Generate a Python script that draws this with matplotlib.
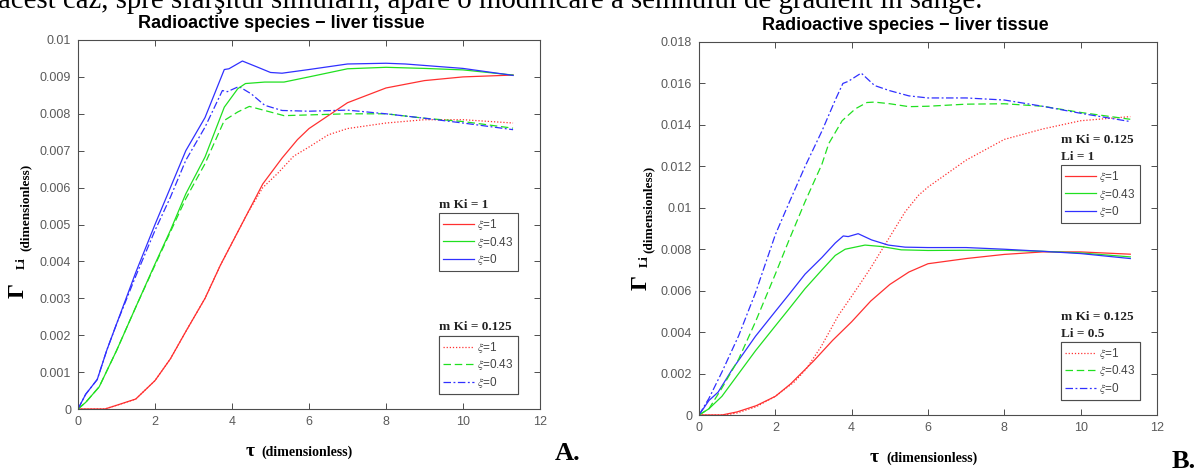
import matplotlib
matplotlib.use("Agg")
import matplotlib.pyplot as plt
from matplotlib.lines import Line2D

plt.rcParams["font.family"] = ["Liberation Sans", "DejaVu Sans"]
plt.rcParams["mathtext.fontset"] = "stix"

# ---- panel A : liver tissue, Li = 1 ----
A_tau_red = [0, 0.7, 1.0, 1.5, 2.0, 2.4, 2.8, 3.3, 3.7, 4.0, 4.4, 4.8, 5.3, 5.7, 6.0, 7.0, 8.0, 9.0, 10.0, 11.3]
A_red_mki1 = [0, 0, 0.0001, 0.00027, 0.00077, 0.00136, 0.0021, 0.0030, 0.0039, 0.0045, 0.0053,
              0.0061, 0.0068, 0.0073, 0.0076, 0.0083, 0.0087, 0.0089, 0.0090, 0.00905]
A_tau_red_dot = [0, 0.7, 1.0, 1.5, 2.0, 2.4, 2.8, 3.3, 3.7, 4.0, 4.4, 4.8, 5.2, 5.6, 6.0, 6.5, 7.0, 8.0, 9.0, 10.0, 11.3]
A_red_mki0125 = [0, 0, 0.0001, 0.00027, 0.00077, 0.00136, 0.0021, 0.0030, 0.0039, 0.0045, 0.0053,
                 0.0060, 0.0064, 0.00685, 0.0071, 0.00743, 0.0076, 0.00775, 0.00784, 0.00784, 0.00775]

A_tau_blue = [0, 0.2, 0.5, 0.75, 1.0, 1.5, 2.0, 2.4, 2.8, 3.3, 3.6, 3.8, 3.92, 4.27, 4.65, 5.0, 5.3,
              6.0, 7.0, 8.0, 8.5, 10.0, 11.3]
A_blue_mki1 = [0, 0.0004, 0.0008, 0.0016, 0.0023, 0.0037, 0.0050, 0.0060, 0.0070, 0.0079, 0.00868,
               0.0092, 0.00922, 0.00943, 0.00927, 0.00912, 0.0091, 0.0092, 0.00935, 0.00937, 0.00935,
               0.00923, 0.00904]
A_tau_blue_dd = [0, 0.2, 0.5, 0.75, 1.0, 1.5, 2.0, 2.4, 2.8, 3.3, 3.75, 3.88, 4.18, 4.5, 4.85, 5.3,
                 6.0, 7.0, 8.0, 9.0, 10.0, 11.3]
A_blue_mki0125 = [0, 0.0004, 0.0008, 0.0016, 0.0023, 0.0036, 0.00484, 0.00574, 0.00674, 0.00764,
                  0.00863, 0.0086, 0.00874, 0.00854, 0.00823, 0.00809, 0.00807, 0.0081, 0.008,
                  0.00788, 0.00775, 0.00757]

A_tau_green = [0, 0.2, 0.55, 1.0, 1.5, 2.0, 2.4, 2.8, 3.3, 3.8, 4.15, 4.35, 4.85, 5.35, 6.0, 7.0,
               8.0, 9.0, 10.0, 11.3]
A_green_mki1 = [0, 0.00018, 0.0006, 0.00158, 0.00276, 0.00393, 0.00484, 0.00583, 0.00683, 0.00818,
                0.00868, 0.00882, 0.00886, 0.00886, 0.009, 0.00922, 0.00926, 0.00923, 0.00919, 0.00905]
A_tau_green_ds = [0, 0.2, 0.55, 1.0, 1.5, 2.0, 2.4, 2.8, 3.3, 3.8, 4.15, 4.45, 4.85, 5.35, 6.0, 7.0,
                  8.0, 9.0, 10.0, 11.3]
A_green_mki0125 = [0, 0.00018, 0.0006, 0.00158, 0.00276, 0.0039, 0.0048, 0.0057, 0.00665, 0.00782,
                   0.00805, 0.0082, 0.00809, 0.00795, 0.00797, 0.008, 0.008, 0.00788, 0.00779, 0.00761]

# ---- panel B : mKi = 0.125, Li = 1 and Li = 0.5 ----
B_tau_blue_dd = [0, 0.26, 0.6, 1.04, 1.48, 2.0, 2.35, 2.78, 3.22, 3.57, 3.77, 3.91, 4.25, 4.6, 5.0,
                 5.5, 6.0, 7.0, 8.0, 9.0, 10.0, 11.3]
B_blue_li1 = [0, 0.0008, 0.00207, 0.00383, 0.0059, 0.0087, 0.0102, 0.012, 0.0137, 0.0152, 0.016,
              0.0161, 0.0165, 0.0159, 0.01565, 0.0154, 0.0153, 0.0153, 0.0152, 0.0149, 0.01456, 0.01416]
B_tau_green_ds = [0, 0.26, 0.6, 1.04, 1.48, 2.0, 2.35, 2.78, 3.22, 3.4, 3.75, 4.1, 4.4, 4.6, 5.0,
                  5.5, 6.0, 7.0, 8.0, 9.0, 10.0, 11.3]
B_green_li1 = [0, 0.0003, 0.0013, 0.0027, 0.0045, 0.0068, 0.0084, 0.0103, 0.0121, 0.0131, 0.0142,
               0.01478, 0.01508, 0.0151, 0.01502, 0.01488, 0.0149, 0.015, 0.01502, 0.0149, 0.0146, 0.01427]
B_tau_red_dot = [0, 0.7, 1.0, 1.5, 2.0, 2.5, 2.8, 3.2, 3.65, 4.1, 4.5, 5.0, 5.4, 5.75, 6.0, 7.0,
                 8.0, 9.0, 10.0, 11.3]
B_red_li1 = [0, 0, 0.0001, 0.0004, 0.0009, 0.0016, 0.0022, 0.0033, 0.0048, 0.006, 0.0071, 0.0086,
             0.0098, 0.0106, 0.0110, 0.0123, 0.0133, 0.0138, 0.0142, 0.0144]

B_tau_red = [0, 0.6, 1.0, 1.5, 2.0, 2.4, 3.0, 3.5, 4.0, 4.5, 5.0, 5.5, 6.0, 7.0, 8.0, 9.0, 10.0, 11.3]
B_red_li05 = [0, 0, 0.00015, 0.00045, 0.0009, 0.0015, 0.0026, 0.0036, 0.0045, 0.0055, 0.0063,
              0.0069, 0.0073, 0.00755, 0.00775, 0.00787, 0.00787, 0.00776]
B_tau_blue = [0, 0.26, 0.5, 0.87, 1.48, 2.0, 2.35, 2.78, 3.22, 3.57, 3.78, 3.91, 4.17, 4.52, 4.96,
              5.4, 6.0, 7.0, 8.0, 9.0, 10.0, 11.3]
B_blue_li05 = [0, 0.0007, 0.0011, 0.0022, 0.0038, 0.0050, 0.0058, 0.0068, 0.0076, 0.0083, 0.00864,
               0.00861, 0.00875, 0.00845, 0.0082, 0.0081, 0.00808, 0.00808, 0.008, 0.0079, 0.00779, 0.00755]
B_tau_green = [0, 0.26, 0.6, 1.04, 1.48, 2.0, 2.35, 2.78, 3.22, 3.57, 3.83, 4.35, 4.78, 5.3, 6.0,
               7.0, 8.0, 9.0, 10.0, 11.3]
B_green_li05 = [0, 0.0003, 0.0009, 0.002, 0.0031, 0.0043, 0.0051, 0.0061, 0.0070, 0.0077, 0.0080,
                0.0082, 0.00813, 0.00797, 0.00794, 0.00795, 0.00795, 0.0079, 0.00782, 0.00763]

xi_labels = [r"$\xi$=1", r"$\xi$=0.43", r"$\xi$=0"]
RED, GREEN, BLUE = "#ff3030", "#20e020", "#3030ff"
DOT, DASH, DASHDOT = (0, (1, 1.5)), (0, (6, 3)), (0, (6, 2, 1.5, 2))
W, H = 1199, 472


def px_axes(fig, left, top, right, bottom):
    return fig.add_axes([left / W, 1 - bottom / H, (right - left) / W, (bottom - top) / H])


def style_axes(ax, ymax, ystep):
    ax.set_xlim(0, 12)
    ax.set_ylim(0, ymax)
    ax.set_xticks(range(0, 13, 2))
    yt = [round(i * ystep, 4) for i in range(int(round(ymax / ystep)) + 1)]
    ax.set_yticks(yt)
    ax.set_yticklabels([f"{v:g}" for v in yt])
    ax.tick_params(direction="in", length=4, width=0.7, top=True, right=True,
                   labelsize=9, labelcolor="#5a5a5a", color="#4d4d4d", pad=5)
    for s in ax.spines.values():
        s.set_color("#4d4d4d")
        s.set_linewidth(0.8)


def add_legend(ax, styles, x, ytop):
    handles = [Line2D([], [], color=c, ls=ls, lw=0.9) for c, ls in styles]
    leg = ax.legend(handles, xi_labels, loc="upper left", bbox_to_anchor=(x, ytop),
                    borderaxespad=0, fontsize=8.5, handlelength=2.6, handletextpad=0.3,
                    labelspacing=0.2, borderpad=0.35, fancybox=False, framealpha=1,
                    edgecolor="#4d4d4d", labelcolor="#444444")
    leg.get_frame().set_linewidth(0.8)
    ax.add_artist(leg)
    return leg


def serif_text(fig, x, y, s, size, **kw):
    fig.text(x / W, 1 - y / H, s, fontsize=size, family="Liberation Serif",
             fontweight="bold", ha="center", va="center", **kw)


def legend_title(ax, x, y, s):
    ax.text(x, y, s, transform=ax.transAxes, fontsize=9.5, fontweight="bold",
            family="Liberation Serif", va="center", ha="left", color="#222222")


fig = plt.figure(figsize=(W / 100, H / 100), dpi=100)

# running text of the document, cut at the top
fig.text(-2 / W, 1 - 8 / H,
         "acest caz, spre sfârşitul simulării, apare o modificare a semnului de gradient în sânge.",
         fontsize=20.8, family="Liberation Serif", ha="left", va="baseline")

# ---------- A ----------
axA = px_axes(fig, 78, 40, 540, 409)
axA.plot(A_tau_red, A_red_mki1, color=RED, lw=0.9)
axA.plot(A_tau_red_dot, A_red_mki0125, color=RED, lw=0.9, ls=DOT)
axA.plot(A_tau_green_ds, A_green_mki0125, color=GREEN, lw=0.9, ls=DASH)
axA.plot(A_tau_blue_dd, A_blue_mki0125, color=BLUE, lw=0.9, ls=DASHDOT)
axA.plot(A_tau_green, A_green_mki1, color=GREEN, lw=0.9)
axA.plot(A_tau_blue, A_blue_mki1, color=BLUE, lw=0.9)
style_axes(axA, 0.01, 0.001)

add_legend(axA, [(RED, "-"), (GREEN, "-"), (BLUE, "-")], 0.781, 0.531)
add_legend(axA, [(RED, DOT), (GREEN, DASH), (BLUE, DASHDOT)], 0.781, 0.198)
legend_title(axA, 0.781, 0.553, "m Ki = 1")
legend_title(axA, 0.781, 0.222, "m Ki = 0.125")

fig.text(281 / W, 1 - 27.5 / H, "Radioactive species − liver tissue", fontsize=13,
         fontweight="bold", ha="center", va="baseline")
serif_text(fig, 18, 291, "Γ", 17, rotation=90)
serif_text(fig, 22, 263, "Li", 9, rotation=90)
serif_text(fig, 26, 207, "(dimensionless)", 9.5, rotation=90)
serif_text(fig, 250, 451, "τ", 14)
serif_text(fig, 307, 452, "(dimensionless)", 10)
serif_text(fig, 568, 453, "A.", 19)

# ---------- B ----------
axB = px_axes(fig, 699, 42, 1157, 415)
axB.plot(B_tau_red, B_red_li05, color=RED, lw=0.9)
axB.plot(B_tau_red_dot, B_red_li1, color=RED, lw=0.9, ls=DOT)
axB.plot(B_tau_green, B_green_li05, color=GREEN, lw=0.9)
axB.plot(B_tau_blue, B_blue_li05, color=BLUE, lw=0.9)
axB.plot(B_tau_green_ds, B_green_li1, color=GREEN, lw=0.9, ls=DASH)
axB.plot(B_tau_blue_dd, B_blue_li1, color=BLUE, lw=0.9, ls=DASHDOT)
style_axes(axB, 0.018, 0.002)

add_legend(axB, [(RED, "-"), (GREEN, "-"), (BLUE, "-")], 0.790, 0.670)
add_legend(axB, [(RED, DOT), (GREEN, DASH), (BLUE, DASHDOT)], 0.790, 0.196)
for y, s in [(0.737, "m Ki = 0.125"), (0.692, "Li = 1"), (0.263, "m Ki = 0.125"), (0.217, "Li = 0.5")]:
    legend_title(axB, 0.790, y, s)

fig.text(905 / W, 1 - 30 / H, "Radioactive species − liver tissue", fontsize=13,
         fontweight="bold", ha="center", va="baseline")
serif_text(fig, 641, 282, "Γ", 17, rotation=90)
serif_text(fig, 645, 261, "Li", 9, rotation=90)
serif_text(fig, 649, 209, "(dimensionless)", 9.5, rotation=90)
serif_text(fig, 874, 457, "τ", 14)
serif_text(fig, 932, 458, "(dimensionless)", 10)
serif_text(fig, 1184, 462, "B.", 19)

fig.savefig("out.png", dpi=100)
